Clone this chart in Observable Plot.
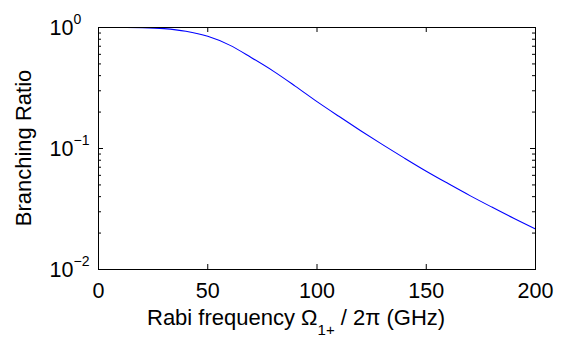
<!DOCTYPE html>
<html>
<head>
<meta charset="utf-8">
<script src="https://cdn.jsdelivr.net/npm/d3@7"></script>
<script src="https://cdn.jsdelivr.net/npm/@observablehq/plot@0.6"></script>
<style>
  html, body { margin: 0; padding: 0; background: #fff; }
  #chart { width: 563px; height: 337px; }
</style>
</head>
<body>
<div id="chart"></div>
<script>
// Data
const rabiFreq = [0, 10, 20, 30, 40, 50, 60, 70, 80, 90, 100, 110, 120, 130, 140, 150, 160, 170, 180, 190, 200];
const branchingRatio = [1.0, 1.0, 0.997, 0.978, 0.93, 0.845, 0.715, 0.563, 0.436, 0.328, 0.244, 0.1845, 0.1404, 0.1077, 0.0833, 0.0649, 0.0513, 0.0408, 0.0328, 0.0265, 0.0216];
const xTicks = [0, 50, 100, 150, 200];
const yMajorTicks = [1, 0.1, 0.01];
const yExponents = ["0", "\u22121", "\u22122"];
const yMinorTicks = [0.02,0.03,0.04,0.05,0.06,0.07,0.08,0.09,0.2,0.3,0.4,0.5,0.6,0.7,0.8,0.9];

const data = rabiFreq.map((x, i) => ({x, y: branchingRatio[i]}));

const W = 563, H = 337;
const mL = 98, mR = 28, mT = 27, mB = 68;
const fw = W - mL - mR, fh = H - mT - mB;
const font = "'Liberation Sans', Arial, Helvetica, sans-serif";

const chart = Plot.plot({
  width: W,
  height: H,
  marginLeft: mL,
  marginRight: mR,
  marginTop: mT,
  marginBottom: mB,
  style: {fontFamily: font, background: "#fff", color: "#000"},
  x: {domain: [0, 200], label: null},
  y: {type: "log", domain: [0.01, 1], label: null},
  marks: [
    Plot.axisX(xTicks, {tickSize: 0, tickPadding: 13, fontSize: 21.5, tickFormat: d => String(d), label: null}),
    Plot.axisY([], {label: null}),
    // inward ticks
    Plot.tickX(xTicks, {x: d => d, insetTop: fh - 5, stroke: "#000"}),
    Plot.tickX(xTicks, {x: d => d, insetBottom: fh - 5, stroke: "#000"}),
    Plot.tickY(yMajorTicks, {y: d => d, insetRight: fw - 5, stroke: "#000"}),
    Plot.tickY(yMajorTicks, {y: d => d, insetLeft: fw - 5, stroke: "#000"}),
    Plot.tickY(yMinorTicks, {y: d => d, insetRight: fw - 3, stroke: "#000"}),
    Plot.tickY(yMinorTicks, {y: d => d, insetLeft: fw - 3, stroke: "#000"}),
    // y tick labels 10^k
    Plot.text(yMajorTicks, {y: d => d, frameAnchor: "left", dx: -25, dy: 1, textAnchor: "end", lineAnchor: "middle", text: () => "10", fontSize: 21.5, fill: "#000"}),
    Plot.text(yMajorTicks, {y: d => d, frameAnchor: "left", dx: -25, dy: -8, textAnchor: "start", lineAnchor: "middle", text: (d, i) => yExponents[i], fontSize: 14, fill: "#000"}),
    Plot.line(data, {x: "x", y: "y", stroke: "#0000ff", strokeWidth: 1.1, curve: "catmull-rom"}),
    Plot.frame({stroke: "#000", strokeWidth: 1})
  ]
});

const svg = d3.select(chart);
// x-axis label with subscript
const xl = svg.append("text")
  .attr("x", 147).attr("y", 325)
  .attr("text-anchor", "start")
  .attr("font-family", font).attr("font-size", 22).attr("fill", "#000");
xl.append("tspan").text("Rabi frequency \u03A9");
xl.append("tspan").attr("dy", 10).attr("font-size", 15).text("1+");
xl.append("tspan").attr("dy", -10).text(" / 2\u03C0 (GHz)");
// y-axis label
svg.append("text")
  .attr("transform", "translate(31,148) rotate(-90)")
  .attr("text-anchor", "middle")
  .attr("font-family", font).attr("font-size", 22).attr("fill", "#000")
  .text("Branching Ratio");

document.getElementById("chart").appendChild(chart);
</script>
</body>
</html>
